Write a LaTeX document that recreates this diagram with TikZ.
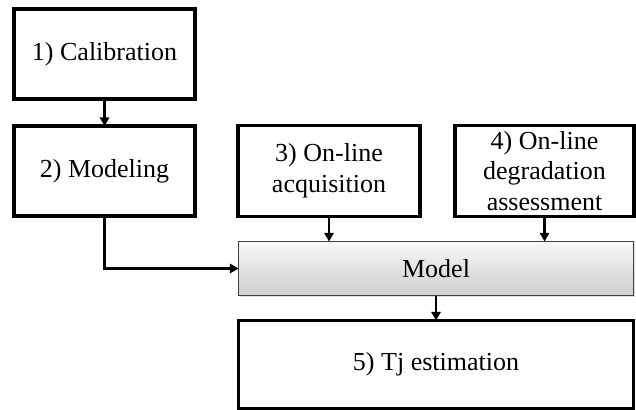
\documentclass[tikz,border=0pt]{standalone}
\usepackage{fontspec}
\setmainfont{Liberation Serif}
\usetikzlibrary{positioning,calc,arrows.meta,shadows}

\tikzset{
	stepbox/.style={draw, line width=2.6pt, minimum width=135.75pt, minimum height=67.5pt,
		align=center, inner sep=0pt, outer sep=0pt, font=\fontsize{19.5}{23}\selectfont},
	widebox/.style={stepbox, minimum width=296.25pt, minimum height=66pt},
	modelbox/.style={draw=black!75, line width=0.8pt, top color=gray!6, bottom color=gray!38,
		drop shadow={opacity=0.25, shadow xshift=1pt, shadow yshift=-1pt},
		minimum width=296.25pt, minimum height=40.5pt, inner sep=0pt, outer sep=0pt,
		font=\fontsize{19.5}{23}\selectfont},
	link/.style={line width=1.6pt, -{Triangle[length=6.5pt,width=7pt]}}
}

\begin{document}
\begin{tikzpicture}
			      \useasboundingbox (0,0) rectangle (477pt,-307.5pt);

			      % Define nodes
			      \node[stepbox] (cal) at (78.4pt,-40.5pt) {1) Calibration};
			      \node[stepbox, below=20.25pt of cal] (mod) {2) Modeling};
			      \node[stepbox, minimum width=136.5pt, minimum height=68.25pt, right=32.25pt of mod] (acq) {3) On-line\\acquisition};
			      \node[stepbox, minimum width=134.25pt, minimum height=68.25pt, right=26.25pt of acq] (deg) {4) On-line\\degradation\\assessment};
			      \coordinate (mid) at ($(acq.south west)!.5!(deg.south east)$);
			      \node[modelbox, below=18.75pt of mid] (model) {Model};
			      \node[widebox, below=18.75pt of model] (est) {5) Tj estimation};

			      % Connect the nodes
			      \draw[link] (cal) -- (mod);
			      \draw[link] (mod.south) |- (model.west);
			      \draw[link] (acq.south) -- (acq.south |- model.north);
			      \draw[link] (deg.south) -- (deg.south |- model.north);
			      \draw[link] (model) -- (est);
		      \end{tikzpicture}
\end{document}
